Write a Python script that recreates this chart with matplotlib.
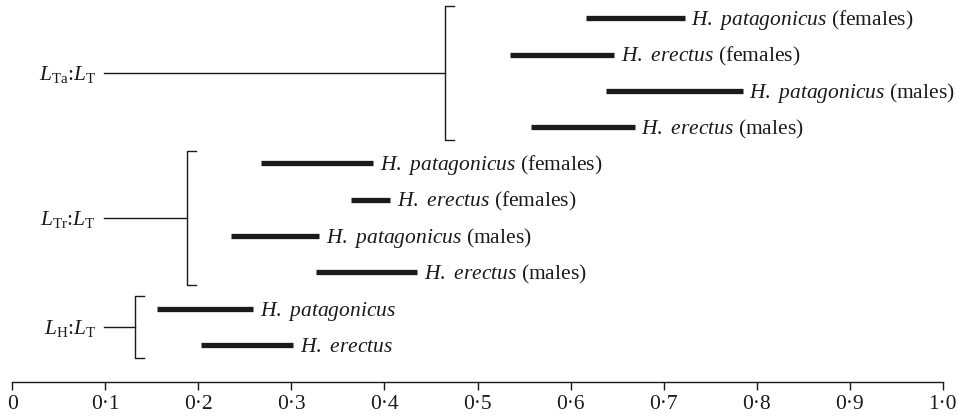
import matplotlib
matplotlib.use("Agg")
from matplotlib import pyplot as plt

plt.rcParams["font.family"] = "Liberation Serif"
plt.rcParams["mathtext.fontset"] = "custom"
plt.rcParams["mathtext.rm"] = "Liberation Serif"
plt.rcParams["mathtext.it"] = "Liberation Serif:italic"

# ranges of the length ratios, top to bottom
species = [
    "H. patagonicus", "H. erectus", "H. patagonicus", "H. erectus",
    "H. patagonicus", "H. erectus", "H. patagonicus", "H. erectus",
    "H. patagonicus", "H. erectus",
]
sexes = [
    "females", "females", "males", "males",
    "females", "females", "males", "males",
    "", "",
]
low = [0.617, 0.535, 0.638, 0.557, 0.267, 0.364, 0.235, 0.326, 0.155, 0.203]
high = [0.723, 0.647, 0.785, 0.669, 0.388, 0.406, 0.330, 0.435, 0.259, 0.302]

groups = [r"$L_{\mathrm{Ta}}$:$L_{\mathrm{T}}$",
          r"$L_{\mathrm{Tr}}$:$L_{\mathrm{T}}$",
          r"$L_{\mathrm{H}}$:$L_{\mathrm{T}}$"]
group_rows = [(0, 3), (4, 7), (8, 9)]
bracket_x = [0.465, 0.1875, 0.132]

ticks = [0, 0.1, 0.2, 0.3, 0.4, 0.5, 0.6, 0.7, 0.8, 0.9, 1.0]
tick_labels = ["0", "0·1", "0·2", "0·3", "0·4", "0·5", "0·6", "0·7", "0·8", "0·9", "1·0"]

fig = plt.figure(figsize=(9.58, 4.18), dpi=100)
ax = fig.add_axes([12.3 / 958, 36 / 418, 930.4 / 958, 382 / 418])

ink = "#1a1a1a"
fs = 15.5

for i in range(len(species)):
    ax.plot([low[i], high[i]], [i, i], color=ink, lw=3.8, solid_capstyle="butt")
    name = " ".join(r"$\mathit{" + w + "}$" for w in species[i].split())
    if sexes[i]:
        name += " (" + sexes[i] + ")"
    ax.text(high[i] + 0.007, i + 0.19, name, fontsize=fs, va="baseline", ha="left",
            color=ink)

for label, (r0, r1), bx in zip(groups, group_rows, bracket_x):
    top = r0 - 0.35
    bot = r1 + 0.35
    mid = (r0 + r1) / 2
    ax.plot([bx + 0.01, bx, bx, bx + 0.01], [top, top, bot, bot], color=ink, lw=1.0)
    ax.plot([0.099, bx], [mid, mid], color=ink, lw=1.0)
    ax.text(0.09, mid + 0.2, label, fontsize=fs, va="baseline", ha="right", color=ink)

ax.set_xlim(0, 1)
ax.set_ylim(10.02, -0.504)
ax.set_xticks(ticks)
ax.set_xticklabels(tick_labels, fontsize=fs)
ax.set_yticks([])
for s in ["left", "right", "top"]:
    ax.spines[s].set_visible(False)
ax.spines["bottom"].set_linewidth(1.0)
ax.spines["bottom"].set_color(ink)
ax.tick_params(axis="x", direction="out", length=5.5, width=1.0, color=ink,
               labelcolor=ink, pad=4)

fig.savefig("out.png", dpi=100)
